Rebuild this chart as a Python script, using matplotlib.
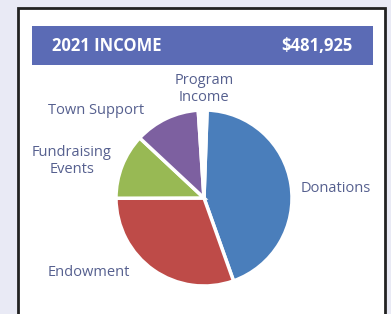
import matplotlib
matplotlib.use("Agg")
import matplotlib.pyplot as plt
from matplotlib.patches import Rectangle

labels = ["Donations", "Endowment", "Fundraising Events", "Town Support", "Program Income"]
values = [44.0, 30.4, 12.0, 12.0, 1.6]
colors = ["#4a7ebb", "#be4b48", "#98b954", "#7d60a0", "#ffffff"]
title = "2021 INCOME"
total = "$481,925"

W, H = 391, 314
fig = plt.figure(figsize=(W / 100, H / 100), dpi=100)
fig.patch.set_facecolor("#e9eaf5")
ax = fig.add_axes([0, 0, 1, 1])
ax.set_xlim(0, W)
ax.set_ylim(0, H)
ax.set_aspect("equal")
ax.axis("off")

def Y(y):
    return H - y

# card
ax.add_patch(Rectangle((18, Y(330)), 367, 322, facecolor="white", edgecolor="#222222", lw=2, zorder=0))
# header
ax.add_patch(Rectangle((32, Y(65)), 341, 39, facecolor="#5b6bb5", edgecolor="none", zorder=1))
ax.text(52, Y(46), title, color="white", fontsize=12, fontweight="bold", family="Open Sans",
        ha="left", va="center", zorder=2)
ax.text(352, Y(46), total, color="white", fontsize=12, fontweight="bold", family="Open Sans",
        ha="right", va="center", zorder=2)

ax.pie(values, colors=colors, startangle=88, counterclock=False, center=(204, Y(198)), radius=88,
       wedgeprops=dict(edgecolor="white", linewidth=2.5), frame=True)
ax.set_xlim(0, W)
ax.set_ylim(0, H)
ax.axis("off")

tc = "#56608f"
fs = 10.5
kw = dict(color=tc, fontsize=fs, family="Open Sans", fontweight="medium", ha="center", va="center")
ax.text(204, Y(89), "Program\nIncome", linespacing=1.2, **kw)
ax.text(96, Y(110), "Town Support", **kw)
ax.text(72, Y(161), "Fundraising\nEvents", linespacing=1.2, **kw)
ax.text(336, Y(189), "Donations", **kw)
ax.text(89, Y(273), "Endowment", **kw)

fig.savefig("out.png", dpi=100, facecolor=fig.get_facecolor())
